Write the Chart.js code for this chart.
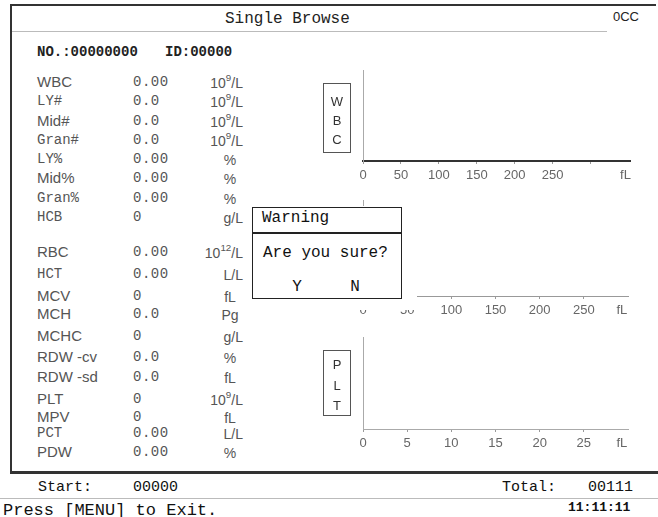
<!DOCTYPE html>
<html>
<head>
<meta charset="utf-8">
<script src="https://cdn.jsdelivr.net/npm/chart.js@4.4.1/dist/chart.umd.min.js"></script>
<style>
  html, body { margin:0; padding:0; background:#fff; }
  #screen { position:relative; width:658px; height:517px; overflow:hidden; background:#fff; }
  .t { position:absolute; white-space:pre; transform:translateY(-50%); line-height:1.2; }
  .mono { font-family:"Liberation Mono","DejaVu Sans Mono",monospace; }
  .sans { font-family:"Liberation Sans",Arial,sans-serif; }
  .ln { position:absolute; }
  canvas.hist { position:absolute; }
  sup { font-size:70%; line-height:0; position:relative; top:-0.15em; vertical-align:super; }
</style>
</head>
<body>
<div id="screen"></div>
<script>
// ---------------- DATA ----------------
const paramNames  = ['WBC','LY#','Mid#','Gran#','LY%','Mid%','Gran%','HCB','RBC','HCT','MCV','MCH','MCHC','RDW -cv','RDW -sd','PLT','MPV','PCT','PDW'];
const paramValues = ['0.00','0.0','0.0','0.0','0.00','0.00','0.00','0','0.00','0.00','0','0.0','0','0.0','0.0','0','0','0.00','0.00'];
const paramUnits  = ['10^9/L','10^9/L','10^9/L','10^9/L','%','%','%','g/L','10^12/L','L/L','fL','Pg','g/L','%','fL','10^9/L','fL','L/L','%'];
const wbcTicks = [0,50,100,150,200,250,300];
const wbcTickLabels = ['0','50','100','150','200','250',''];
const rbcTicks = [0,50,100,150,200,250];
const rbcTickLabels = ['0','50','100','150','200','250'];
const pltTicks = [0,5,10,15,20,25];
const pltTickLabels = ['0','5','10','15','20','25'];
const unitLabel = 'fL';
// histogram curves are empty (all results are zero)
const wbcCounts = [];
const rbcCounts = [];
const pltCounts = [];

// ---------------- LAYOUT ----------------
const screen = document.getElementById('screen');
function txt(x, y, s, cls, css) {
  const d = document.createElement('div');
  d.className = 't ' + cls;
  d.innerHTML = s;
  d.style.left = x + 'px';
  d.style.top = y + 'px';
  if (css) Object.assign(d.style, css);
  screen.appendChild(d);
  return d;
}
function line(x, y, w, h, color) {
  const d = document.createElement('div');
  d.className = 'ln';
  Object.assign(d.style, { left:x+'px', top:y+'px', width:w+'px', height:h+'px', background:color });
  screen.appendChild(d);
  return d;
}
function box(x, y, w, h, border, bg) {
  const d = document.createElement('div');
  d.className = 'ln';
  Object.assign(d.style, { left:x+'px', top:y+'px', width:w+'px', height:h+'px', border:border, background:bg||'transparent', boxSizing:'border-box' });
  screen.appendChild(d);
  return d;
}
function unitHtml(u) {
  return u.replace(/\^(\d+)/, '<sup>$1</sup>');
}

// frame
line(10, 4, 646, 2, '#333');
line(10, 4, 2, 469, '#333');
line(12, 31, 595, 1, '#bbb');
txt(225, 20, 'Single Browse', 'mono', { fontSize:'16px', color:'#222' });
txt(613, 17, '0CC', 'sans', { fontSize:'13px', color:'#222' });
txt(37, 52, 'NO.:00000000', 'mono', { fontSize:'14px', color:'#222', fontWeight:'bold' });
txt(165, 52, 'ID:00000', 'mono', { fontSize:'14px', color:'#222', fontWeight:'bold' });

// parameter table
const rowY = [82,101,121,140,159,178,198,217,252,274,296,314,336,357,377,399,417,433,452];
const bitmapLike = new Set(['LY#','Gran#','LY%','Gran%','HCB','HCT','PCT']);
paramNames.forEach((n, i) => {
  const y = rowY[i];
  if (bitmapLike.has(n)) txt(37, y, n, 'mono', { fontSize:'14px', color:'#555' });
  else txt(37, y, n, 'sans', { fontSize:'15px', color:'#555' });
  txt(133, y, paramValues[i], 'mono', { fontSize:'14px', color:'#555', letterSpacing:'0.5px' });
  const u = paramUnits[i];
  const el = txt(0, y + 1, unitHtml(u), 'sans', { fontSize:'14px', color:'#555' });
  if (u.length <= 2) { el.style.left = '230px'; el.style.transform = 'translate(-50%,-50%)'; }
  else { el.style.left = 'auto'; el.style.right = (658 - 243) + 'px'; }
});

// histogram charts
function makeHist(cfg) {
  const c = document.createElement('canvas');
  c.className = 'hist';
  c.width = 305; c.height = cfg.height;
  c.style.left = '340px'; c.style.top = cfg.top + 'px';
  screen.appendChild(c);
  const vals = cfg.ticks.concat([cfg.unitPos]);
  const labs = cfg.labels.concat([unitLabel]);
  new Chart(c, {
    type: 'line',
    data: { datasets: [{ data: cfg.counts, borderColor:'#333', borderWidth:1.5, pointRadius:0, fill:false, parsing:false }] },
    options: {
      responsive:false, animation:false, devicePixelRatio:1,
      layout:{ padding:{ left:23, right:cfg.padRight, top:5, bottom:2 } },
      plugins:{ legend:{ display:false }, tooltip:{ enabled:false } },
      scales:{
        x:{
          type:'linear', min:0, max:cfg.max,
          afterBuildTicks: s => { s.ticks = vals.map(v => ({ value:v })); },
          afterFit: s => { s.height = 28; },
          ticks:{ autoSkip:false, maxRotation:0, padding:4, color:'#666',
                  font:{ family:'"Liberation Sans", Arial, sans-serif', size:13 },
                  callback: (v, i) => labs[i] },
          grid:{ drawOnChartArea:false, drawTicks:true, tickLength:3,
                 tickColor: ctx => (ctx.index === vals.length - 1 ? 'rgba(0,0,0,0)' : '#999') },
          border:{ display:true, color:cfg.axisColor, width:cfg.axisWidth }
        },
        y:{
          min:0, max:100,
          afterFit: s => { s.width = 0; },
          ticks:{ display:false },
          grid:{ drawOnChartArea:false, drawTicks:false },
          border:{ display:true, color:'#aaa', width:1 }
        }
      }
    }
  });
}
// WBC: y axis 70..161
makeHist({ top:65, height:5+91+28+2, max:352, padRight:15, ticks:wbcTicks, labels:wbcTickLabels, unitPos:346, counts:wbcCounts, axisColor:'#333', axisWidth:2 });
// RBC: y axis 200..296
makeHist({ top:195, height:5+96+28+2, max:300, padRight:17, ticks:rbcTicks, labels:rbcTickLabels, unitPos:293, counts:rbcCounts, axisColor:'#999', axisWidth:1 });
// PLT: y axis 337..429
makeHist({ top:332, height:5+92+28+2, max:30, padRight:17, ticks:pltTicks, labels:pltTickLabels, unitPos:29.3, counts:pltCounts, axisColor:'#aaa', axisWidth:1 });

// chart name boxes
function nameBox(y0, h, letters, ys) {
  box(323, y0, 28, h, '1.5px solid #555');
  letters.forEach((L, i) => {
    txt(337, ys[i], L, 'sans', { fontSize:'13px', color:'#333', transform:'translate(-50%,-50%)' });
  });
}
nameBox(83, 70, ['W','B','C'], [102,121,140]);
nameBox(218, 70, ['R','B','C'], [237,256,275]);
nameBox(350, 66, ['P','L','T'], [365,386,406]);

// warning dialog (erases the area under it)
box(249, 206, 168, 104, 'none', '#fff');
box(252, 207, 150, 92, '1.5px solid #222', '#fff');
line(252, 232, 150, 1.5, '#222');
txt(262, 219, 'Warning', 'mono', { fontSize:'16px', color:'#111' });
txt(263, 254, 'Are you sure?', 'mono', { fontSize:'16px', color:'#111' });
txt(297, 288, 'Y', 'mono', { fontSize:'16px', color:'#111', transform:'translate(-50%,-50%)' });
txt(355, 288, 'N', 'mono', { fontSize:'16px', color:'#111', transform:'translate(-50%,-50%)' });

// bottom bars
line(10, 471, 648, 3, '#333');
txt(38, 488, 'Start:', 'mono', { fontSize:'15px', color:'#111' });
txt(133, 488, '00000', 'mono', { fontSize:'15px', color:'#111' });
txt(502, 488, 'Total:', 'mono', { fontSize:'15px', color:'#111' });
txt(588, 488, '00111', 'mono', { fontSize:'15px', color:'#111' });
line(0, 498, 658, 1, '#bbb');
txt(3, 511, 'Press [MENU] to Exit.', 'mono', { fontSize:'17px', color:'#111' });
txt(568, 508, '11:11:11', 'mono', { fontSize:'13px', color:'#111', fontWeight:'bold' });
</script>
</body>
</html>
